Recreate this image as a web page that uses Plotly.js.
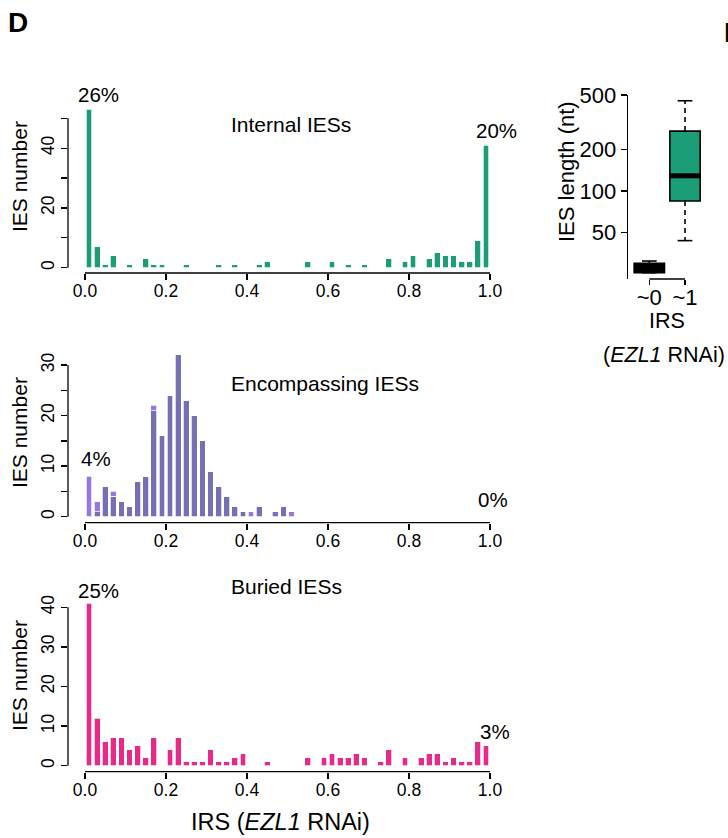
<!DOCTYPE html>
<html>
<head>
<meta charset="utf-8">
<script src="https://cdn.plot.ly/plotly-3.0.1.min.js"></script>
<style>html,body{margin:0;padding:0;background:#fff;}#chart{width:728px;height:838px;}</style>
</head>
<body>
<div id="chart"></div>
<script>
// ---- data ----
const binCenters = [0.01,0.03,0.05,0.07,0.09,0.11,0.13,0.15,0.17,0.19,
                    0.21,0.23,0.25,0.27,0.29,0.31,0.33,0.35,0.37,0.39,
                    0.41,0.43,0.45,0.47,0.49,0.51,0.53,0.55,0.57,0.59,
                    0.61,0.63,0.65,0.67,0.69,0.71,0.73,0.75,0.77,0.79,
                    0.81,0.83,0.85,0.87,0.89,0.91,0.93,0.95,0.97,0.99];
const internalCounts = [53,7,1,4,0,1,0,3,1,1, 0,0,1,0,0,0,1,0,1,0, 0,1,2,0,0,0,0,2,0,0, 2,0,1,0,1,0,0,3,0,2, 4,0,3,5,4,4,2,2,9,41];
const encompassingCounts = [0,1,6,4,3,2,7,8,21,16, 24,32,23,20,15,9,6,4,2,1, 0,2,0,1,2,0,0,0,0,0, 0,0,0,0,0,0,0,0,0,0, 0,0,0,0,0,0,0,0,0,0];
const encompassingExtra = [8,2,0,1,0,0,0,0,1,0, 0,0,0,0,0,0,0,0,0,0, 1,0,0,0,0,1,0,0,0,0, 0,0,0,0,0,0,0,0,0,0, 0,0,0,0,0,0,0,0,0,0];
const buriedCounts = [41,12,6,7,7,4,5,2,7,0, 4,7,1,1,1,4,1,1,2,3, 0,0,1,0,0,0,0,2,0,2, 3,2,2,3,2,0,1,4,0,2, 0,2,3,3,1,2,1,1,6,5];

const xTickVals = [0,0.2,0.4,0.6,0.8,1.0];
const xTickText = ['0.0','0.2','0.4','0.6','0.8','1.0'];
const topYTicks = [0,10,20,30,40,50];
const topYText = ['0','','20','','40',''];
const midYTicks = [0,5,10,15,20,25,30];
const midYText = ['0','','10','','20','','30'];
const botYTicks = [0,10,20,30,40];
const botYText = ['0','10','20','30','40'];

const boxPos = [0,1];
const boxLabels = ['~0','~1'];
const boxQ1 = [25.4, 84.5];
const boxMedian = [27.5, 129];
const boxQ3 = [29.7, 273];
const boxLowerWhisker = [25.4, 43.5];
const boxUpperWhisker = [30.9, 454];
const boxColors = ['#000000','#1b9e77'];
const boxYTicks = [50,100,200,500];

// ---- helpers ----
const W = 728, H = 838;
const FONT = 'Liberation Sans, Arial, Helvetica, sans-serif';
const px = x => x / W;
const py = y => 1 - y / H;

const green = '#1b9e77', purple = '#7570b3', lightPurple = '#9878e0', pink = '#e7298a';

const traces = [];
function barTrace(y, color, xa, ya) {
  return {type:'bar', x: binCenters, y: y, xaxis: xa, yaxis: ya,
          marker:{color: color, line:{color:'rgba(255,255,255,0.9)', width:0.8}},
          hoverinfo:'skip'};
}
traces.push(barTrace(internalCounts, green, 'x', 'y'));
traces.push(barTrace(encompassingCounts, purple, 'x2', 'y2'));
traces.push(barTrace(encompassingExtra, lightPurple, 'x2', 'y2'));
traces.push(barTrace(buriedCounts, pink, 'x3', 'y3'));

// box plot
for (let i = 0; i < boxPos.length; i++) {
  traces.push({type:'box', x:[boxPos[i]], q1:[boxQ1[i]], median:[boxMedian[i]], q3:[boxQ3[i]],
    lowerfence:[boxQ1[i]], upperfence:[boxQ3[i]], width:0.85, whiskerwidth:0,
    fillcolor: boxColors[i], line:{color:'#000', width:1.6}, boxpoints:false,
    xaxis:'x4', yaxis:'y4', hoverinfo:'skip'});
  traces.push({type:'scatter', mode:'lines', x:[boxPos[i], boxPos[i], null, boxPos[i], boxPos[i]],
    y:[boxQ3[i], boxUpperWhisker[i], null, boxQ1[i], boxLowerWhisker[i]],
    line:{color:'#000', width:1.6, dash:'5px,4px'}, xaxis:'x4', yaxis:'y4', hoverinfo:'skip'});
  traces.push({type:'scatter', mode:'markers', x:[boxPos[i], boxPos[i]],
    y:[boxUpperWhisker[i], boxLowerWhisker[i]],
    marker:{symbol:'line-ew', size:10.5, line:{color:'#000', width:1.6}},
    xaxis:'x4', yaxis:'y4', hoverinfo:'skip'});
  traces.push({type:'scatter', mode:'markers', x:[boxPos[i]], y:[boxMedian[i]],
    marker:{symbol:'line-ew', size:21.5, line:{color:'#000', width:5}},
    xaxis:'x4', yaxis:'y4', hoverinfo:'skip'});
}

function xAxis(domain, range, anchor) {
  return {domain: domain, range: range, anchor: anchor, tickvals: xTickVals, ticktext: xTickText,
    ticks:'outside', ticklen:6, tickwidth:1.3, tickcolor:'#000', showgrid:false, zeroline:false,
    showline:false, tickfont:{size:17.5, color:'#000'}, ticklabelstandoff:-4, fixedrange:true};
}
function yAxis(domain, range, anchor, vals, text) {
  return {domain: domain, range: range, anchor: anchor, tickvals: vals, ticktext: text,
    tickangle:-90, ticks:'outside', ticklen:6, tickwidth:1.3, tickcolor:'#000', showgrid:false,
    zeroline:false, showline:false, tickfont:{size:17.5, color:'#000'}, fixedrange:true};
}

const xDom = [px(68), px(495)];
const xRange = [-0.042, 1.0123];
const topDom = [py(273), py(90)], midDom = [py(522.7), py(340)], botDom = [py(771.7), py(570)];

const shapes = [];
function axisLines(xa, ya, yDom, yMax) {
  shapes.push({type:'line', xref:xa, yref:'paper', x0:0, x1:1, y0:yDom[0], y1:yDom[0],
               line:{color:'#000', width:1.3}});
  shapes.push({type:'line', xref:'paper', yref:ya, x0:xDom[0], x1:xDom[0], y0:0, y1:yMax,
               line:{color:'#000', width:1.3}});
}
axisLines('x', 'y', topDom, topYTicks[topYTicks.length-1]);
axisLines('x2', 'y2', midDom, midYTicks[midYTicks.length-1]);
axisLines('x3', 'y3', botDom, botYTicks[botYTicks.length-1]);
const boxDomY = [py(279), py(95)];
shapes.push({type:'line', xref:'x4', yref:'paper', x0:boxPos[0], x1:boxPos[1], y0:boxDomY[0], y1:boxDomY[0],
             line:{color:'#000', width:1.3}});

function ann(text, x, y, size, opts) {
  return Object.assign({text: text, xref:'paper', yref:'paper', x: px(x), y: py(y), showarrow:false,
    font:{size: size, color:'#000', family: FONT}, xanchor:'center', yanchor:'middle'}, opts || {});
}
const annotations = [
  ann('<b>D</b>', 6, 22.5, 28, {xanchor:'left'}),
  ann('<b>E</b>', 722, 32.5, 28, {xanchor:'left'}),
  ann('26%', 99, 94, 20.5),
  ann('20%', 496, 130, 20.5),
  ann('Internal IESs', 229, 125, 21, {xanchor:'left'}),
  ann('4%', 96, 458.5, 20.5),
  ann('0%', 493, 500, 20.5),
  ann('Encompassing IESs', 229, 383.5, 21, {xanchor:'left'}),
  ann('25%', 99, 590, 20.5),
  ann('3%', 495, 731, 20.5),
  ann('Buried IESs', 229, 586.5, 21, {xanchor:'left'}),
  ann('IES number', 19, 177, 21, {textangle:-90}),
  ann('IES number', 19, 433, 21, {textangle:-90}),
  ann('IES number', 19, 676, 21, {textangle:-90}),
  ann('IRS (<i>EZL1</i> RNAi)', 280, 822, 23.5),
  ann('IES length (nt)', 566, 172, 22, {textangle:-90}),
  ann('IRS', 667, 321, 21.5),
  ann('(<i>EZL1</i> RNAi)', 664, 355, 21.5)
];

const layout = {
  width: W, height: H, margin:{l:0, r:0, t:0, b:0},
  paper_bgcolor:'#fff', plot_bgcolor:'rgba(0,0,0,0)',
  font:{family: FONT, color:'#000'},
  showlegend:false, barmode:'stack', bargap:0.28,
  xaxis: xAxis(xDom, xRange, 'y'),
  yaxis: yAxis(topDom, [-1.774, 59.47], 'x', topYTicks, topYText),
  xaxis2: xAxis(xDom, xRange, 'y2'),
  yaxis2: yAxis(midDom, [-1.187, 34.95], 'x2', midYTicks, midYText),
  xaxis3: xAxis(xDom, xRange, 'y3'),
  yaxis3: yAxis(botDom, [-1.515, 49.42], 'x3', botYTicks, botYText),
  xaxis4: {domain:[px(628), px(720)], range:[-0.597, 1.98], anchor:'y4', tickvals: boxPos, ticktext: boxLabels,
    ticks:'outside', ticklen:5, tickwidth:1.3, tickcolor:'#000', showgrid:false, zeroline:false, showline:false,
    tickfont:{size:22, color:'#000'}, ticklabelstandoff:-6, fixedrange:true},
  yaxis4: {domain: boxDomY, type:'log', range:[1.359, 2.699], anchor:'x4', tickvals: boxYTicks,
    ticktext: boxYTicks.map(String), ticks:'outside', ticklen:6, tickwidth:1.3, tickcolor:'#000',
    showgrid:false, zeroline:false, showline:true, linecolor:'#000', linewidth:1.3,
    tickfont:{size:22, color:'#000'}, fixedrange:true},
  shapes: shapes,
  annotations: annotations
};

Plotly.newPlot('chart', traces, layout, {staticPlot:true, displayModeBar:false});
</script>
</body>
</html>
